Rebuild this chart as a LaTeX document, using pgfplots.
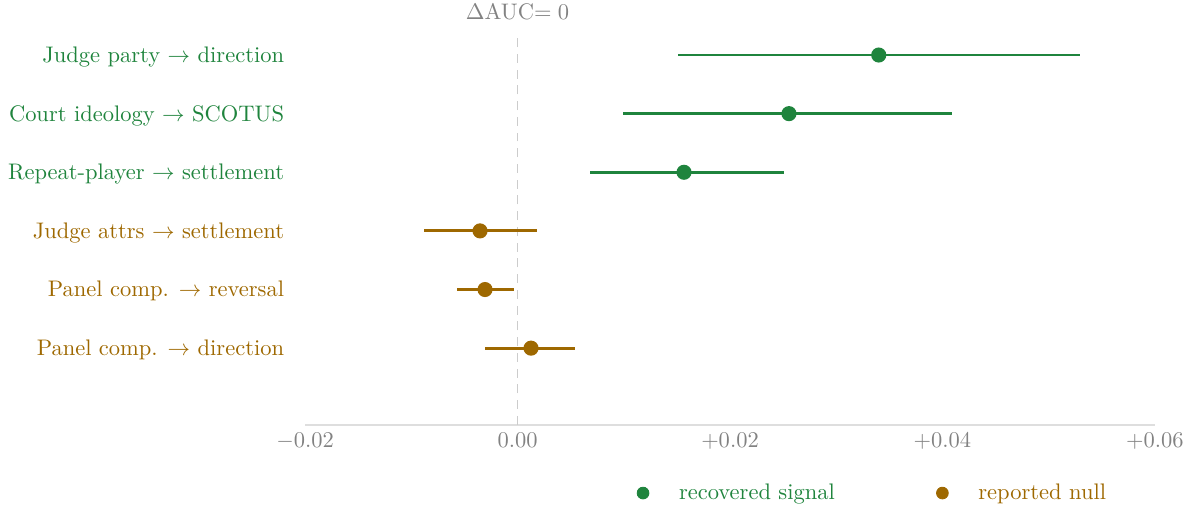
\documentclass[border=0pt]{standalone}
\usepackage{pgfplots}
\pgfplotsset{compat=1.18}
\definecolor{sig}{RGB}{31,132,61}
\definecolor{nul}{RGB}{158,104,0}
\definecolor{tickgray}{RGB}{130,130,130}
\begin{document}
\begin{tikzpicture}
\begin{axis}[
  at={(0,0)}, anchor=south west,
  scale only axis, width=377.8pt, height=172pt,
  xmin=-0.02, xmax=0.06, ymin=-1.31, ymax=5.29,
  axis x line*=bottom, axis y line*=left,
  y axis line style={draw=none},
  x axis line style={draw=black!13, line width=0.6pt},
  major tick length=0pt,
  scaled x ticks=false,
  xtick={-0.02,0,0.02,0.04,0.06},
  xticklabels={$-0.02$,$0.00$,$+0.02$,$+0.04$,$+0.06$},
  xticklabel style={text=tickgray},
  ytick={0,1,2,3,4,5},
  yticklabels={\textcolor{nul}{Panel comp. $\rightarrow$ direction},
               \textcolor{nul}{Panel comp. $\rightarrow$ reversal},
               \textcolor{nul}{Judge attrs $\rightarrow$ settlement},
               \textcolor{sig}{Repeat-player $\rightarrow$ settlement},
               \textcolor{sig}{Court ideology $\rightarrow$ SCOTUS},
               \textcolor{sig}{Judge party $\rightarrow$ direction}},
  yticklabel style={xshift=-5.8pt, yshift=-0.8pt},
  clip=false,
  legend columns=2,
  legend style={draw=none, fill=none, at={(0.669,-0.176)}, anchor=center,
    /tikz/every even column/.append style={column sep=43pt}},
  legend cell align=left,
  legend image code/.code={\fill[#1] (0pt,0pt) circle (2.6pt); \path[draw=none,fill=none] (-2.6pt,0pt) rectangle (14pt,0.1pt);},
]
\draw[black!20, dashed, line width=0.7pt, dash pattern=on 4pt off 3pt] (axis cs:0,-1.31) -- (axis cs:0,5.29);
\node[text=tickgray, above, inner sep=0pt] at (axis cs:0,5.29) [yshift=8pt] {$\Delta$AUC$=0$};
\addlegendimage{sig}
\addlegendentry{\textcolor{sig}{recovered signal}}
\addlegendimage{nul}
\addlegendentry{\textcolor{nul}{reported null}}
\addplot[sig, only marks, mark=*, mark size=2.7pt, line width=1.3pt,
  error bars/.cd, x dir=both, x explicit, error mark=none,
  error bar style={line width=1.3pt, sig}] coordinates {
  (0.0340,5) -= (0.0189,0) += (0.0189,0)
  (0.02555,4) -= (0.01562,0) += (0.01535,0)
  (0.01567,3) -= (0.00885,0) += (0.00941,0)
};
\addplot[nul, only marks, mark=*, mark size=2.7pt, line width=1.3pt,
  error bars/.cd, x dir=both, x explicit, error mark=none,
  error bar style={line width=1.3pt, nul}] coordinates {
  (-0.00353,2) -= (0.00527,0) += (0.00537,0)
  (-0.00306,1) -= (0.00264,0) += (0.00276,0)
  (0.00127,0) -= (0.00433,0) += (0.00414,0)
};
\end{axis}
\pgfresetboundingbox
\useasboundingbox (-135.6pt,-35.6pt) rectangle (394.7pt,188.9pt);
\end{tikzpicture}
\end{document}
